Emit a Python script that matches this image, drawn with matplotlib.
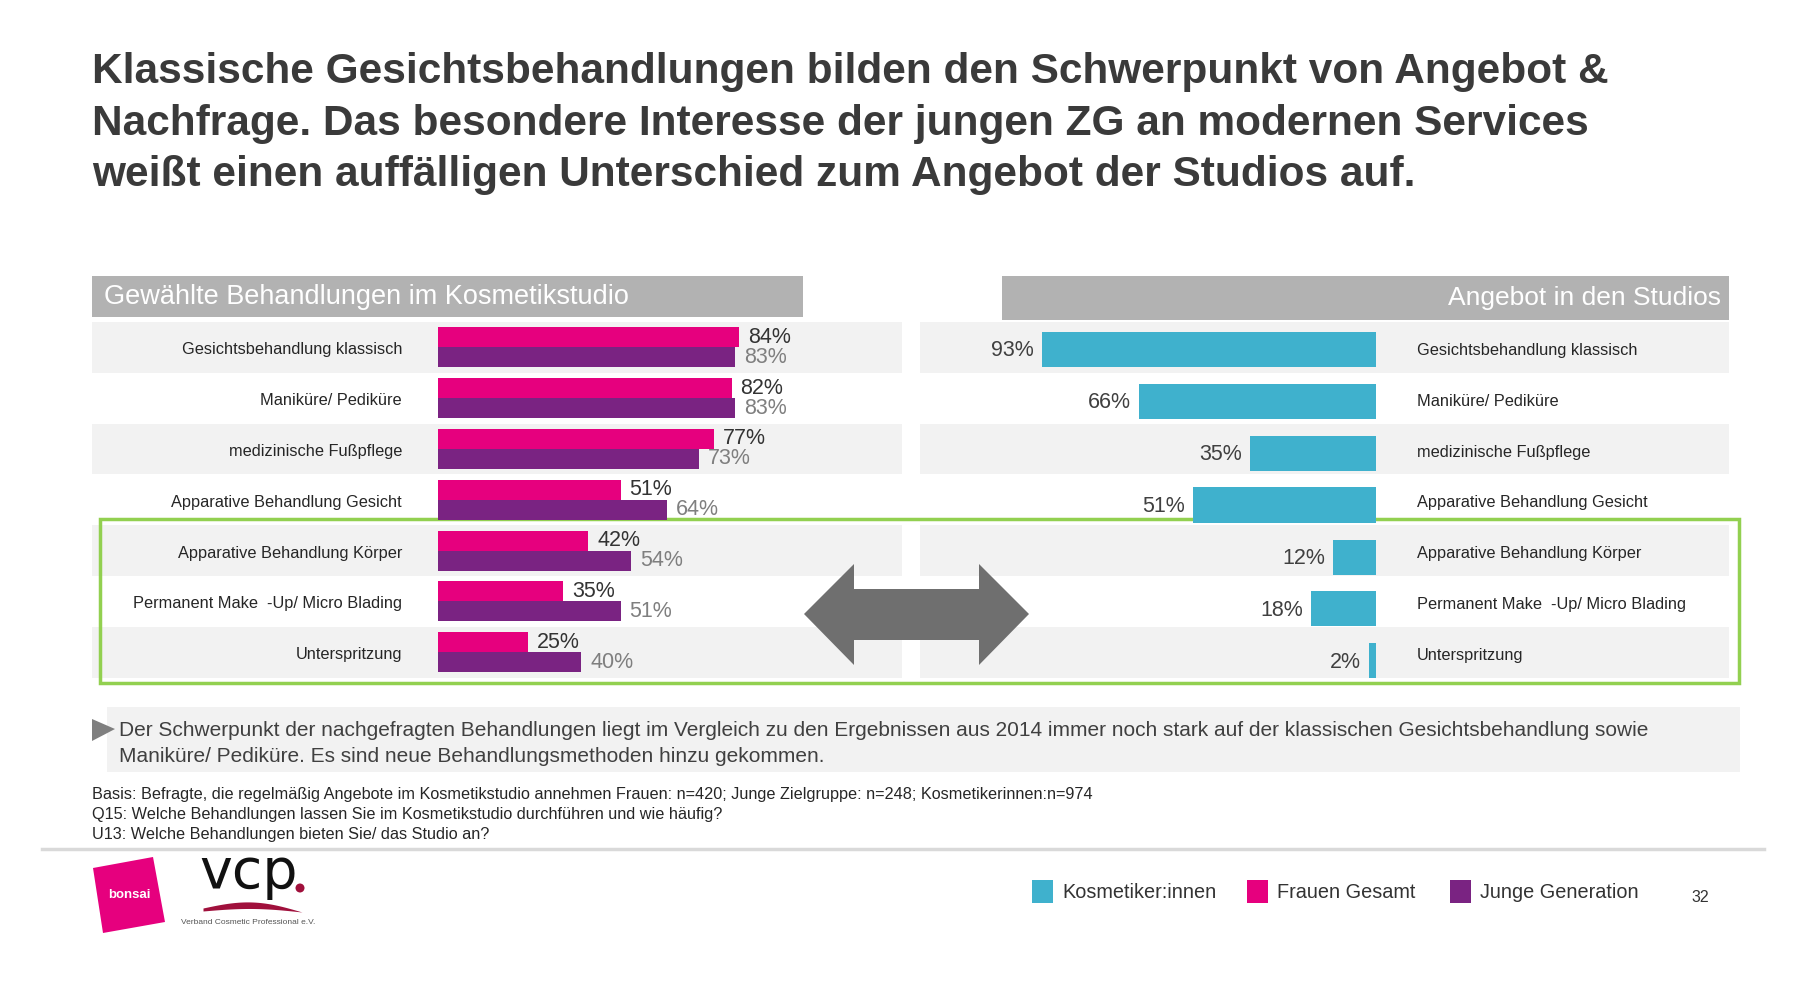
import matplotlib
matplotlib.use("Agg")
import matplotlib.pyplot as plt
from matplotlib.patches import Rectangle, Polygon, Circle
import numpy as np

plt.rcParams['font.family'] = ['Liberation Sans', 'DejaVu Sans']

# ---------------- data ----------------
categories = ["Gesichtsbehandlung klassisch", "Maniküre/ Pediküre", "medizinische Fußpflege",
              "Apparative Behandlung Gesicht", "Apparative Behandlung Körper",
              "Permanent Make  -Up/ Micro Blading", "Unterspritzung"]
frauen_gesamt = [84, 82, 77, 51, 42, 35, 25]
junge_generation = [83, 83, 73, 64, 54, 51, 40]
kosmetiker = [93, 66, 35, 51, 12, 18, 2]

title_lines = ["Klassische Gesichtsbehandlungen bilden den Schwerpunkt von Angebot &",
               "Nachfrage. Das besondere Interesse der jungen ZG an modernen Services",
               "weißt einen auffälligen Unterschied zum Angebot der Studios auf."]
left_header = "Gewählte Behandlungen im Kosmetikstudio"
right_header = "Angebot in den Studios"
note_lines = ["Der Schwerpunkt der nachgefragten Behandlungen liegt im Vergleich zu den Ergebnissen aus 2014 immer noch stark auf der klassischen Gesichtsbehandlung sowie",
              "Maniküre/ Pediküre. Es sind neue Behandlungsmethoden hinzu gekommen."]
basis_lines = ["Basis: Befragte, die regelmäßig Angebote im Kosmetikstudio annehmen Frauen: n=420; Junge Zielgruppe: n=248; Kosmetikerinnen:n=974",
               "Q15: Welche Behandlungen lassen Sie im Kosmetikstudio durchführen und wie häufig?",
               "U13: Welche Behandlungen bieten Sie/ das Studio an?"]
legend_labels = ["Kosmetiker:innen", "Frauen Gesamt", "Junge Generation"]
page_number = "32"

# ---------------- style ----------------
PINK = "#e6007e"
PURPLE = "#7a2382"
CYAN = "#3fb1cd"
HEADER_GRAY = "#b2b2b2"
BAND = "#f2f2f2"
ARROW = "#6f6f6f"
GREEN = "#92d050"
TXT = "#262626"
WINE = "#a0103c"

W, H = 1798, 992
fig = plt.figure(figsize=(W / 100, H / 100), dpi=100)

# background axes in pixel coordinates
bg = fig.add_axes([0, 0, 1, 1])
bg.set_xlim(0, W)
bg.set_ylim(H, 0)
bg.axis("off")

def fx(px_l, px_t, px_r, px_b):
    return [px_l / W, 1 - px_b / H, (px_r - px_l) / W, (px_b - px_t) / H]

# Title
for i, line in enumerate(title_lines):
    bg.text(92, 72 + i * 51.5, line, fontsize=30.5, fontweight="bold", color="#3a3a3a",
            ha="left", va="center")

# Headers
bg.add_patch(Rectangle((92, 276), 711, 41, color=HEADER_GRAY, lw=0))
bg.text(104, 297, left_header, fontsize=19.5, color="white", ha="left", va="center")
bg.add_patch(Rectangle((1002, 276), 727, 44, color=HEADER_GRAY, lw=0))
bg.text(1721, 298, right_header, fontsize=19, color="white", ha="right", va="center")

# Row bands
row_top = 322
row_h = 50.8
n = len(categories)
for i in range(n):
    if i % 2 == 0:
        y0 = row_top + i * row_h
        bg.add_patch(Rectangle((92, y0), 810, row_h, color=BAND, lw=0))
        bg.add_patch(Rectangle((920, y0), 809, row_h, color=BAND, lw=0))

# Left bar axes
axL = fig.add_axes(fx(438, row_top, 796, row_top + n * row_h))
axL.set_xlim(0, 100)
axL.set_ylim(n - 0.5, -0.5)
axL.axis("off")
axL.patch.set_alpha(0)
y = np.arange(n)
bh = 20 / row_h
axL.barh(y - bh / 2, frauen_gesamt, height=bh, color=PINK, lw=0)
axL.barh(y + bh / 2, junge_generation, height=bh, color=PURPLE, lw=0)
for i in range(n):
    axL.annotate(f"{frauen_gesamt[i]}%", (frauen_gesamt[i], y[i] - bh / 2), xytext=(9, 0),
                 textcoords="offset pixels", ha="left", va="center", fontsize=15.5, color="#333333")
    axL.annotate(f"{junge_generation[i]}%", (junge_generation[i], y[i] + bh / 2), xytext=(9, 0),
                 textcoords="offset pixels", ha="left", va="center", fontsize=15.5, color="#7f7f7f")
    axL.annotate(categories[i], (0, y[i] + 0.05), xytext=(-36, 0), textcoords="offset pixels",
                 ha="right", va="center", fontsize=11.8, color=TXT)

# Right bar axes
r_top, r_pitch = 323, 52
axR = fig.add_axes(fx(1017, r_top, 1376, r_top + n * r_pitch))
axR.set_xlim(100, 0)
axR.set_ylim(n - 0.5, -0.5)
axR.axis("off")
axR.patch.set_alpha(0)
axR.barh(y, kosmetiker, height=35 / r_pitch, color=CYAN, lw=0)
for i in range(n):
    axR.annotate(f"{kosmetiker[i]}%", (kosmetiker[i], y[i] + 0.03), xytext=(-8, 0),
                 textcoords="offset pixels", ha="right", va="center", fontsize=15.5, color="#404040")
for i, cat in enumerate(categories):
    bg.text(1417, row_top + (i + 0.5) * row_h + 3, cat, ha="left", va="center",
            fontsize=11.8, color=TXT)

# Green frame
bg.add_patch(Rectangle((100, 519), 1639, 164, fill=False, ec=GREEN, lw=2.5, zorder=5))

# Double arrow
arrow_pts = [(804, 614), (854, 564), (854, 589), (979, 589), (979, 564), (1029, 614),
             (979, 665), (979, 640), (854, 640), (854, 665)]
bg.add_patch(Polygon(arrow_pts, closed=True, color=ARROW, lw=0, zorder=6))

# Note box
bg.add_patch(Rectangle((107, 707), 1633, 65, color=BAND, lw=0))
bg.add_patch(Polygon([(92, 719), (115, 729), (92, 741)], closed=True, color="#7f7f7f", lw=0))
bg.text(119, 731, note_lines[0], fontsize=15, color="#404040", ha="left", va="center")
bg.text(119, 757, note_lines[1], fontsize=15, color="#404040", ha="left", va="center")

# Basis lines
for i, line in enumerate(basis_lines):
    bg.text(92, 795 + i * 20, line, fontsize=11.7, color="#262626", ha="left", va="center")

# Separator
bg.plot([42, 1764], [848.5, 848.5], color="#d9d9d9", lw=2.5)

# Logos
bg.add_patch(Polygon([(93, 868), (153, 857), (165, 922), (103, 933)], closed=True, color=PINK, lw=0))
bg.text(129, 895, "bonsai", fontsize=9.5, fontweight="bold", color="white", ha="center", va="center")
bg.text(199, 888, "vcp", fontsize=40, family="DejaVu Sans", color="#111111", ha="left", va="baseline")
bg.add_patch(Circle((300, 888), 4.5, color=WINE, lw=0))
xs = np.linspace(203, 302, 60)
t = (xs - 203) / 99
bg.fill_between(xs, 908 - 8 * np.sin(t * np.pi) + 4 * t, 911 - 3 * np.sin(t * np.pi) + 1 * t,
                color=WINE, lw=0)
bg.text(181, 923, "Verband Cosmetic Professional e.V.", fontsize=6, color="#555555", ha="left", va="center")

# Legend
leg_items = [(1032, CYAN), (1247, PINK), (1450, PURPLE)]
for (x0, c), lab in zip(leg_items, legend_labels):
    bg.add_patch(Rectangle((x0, 880), 21, 23, color=c, lw=0))
    bg.text(x0 + 30, 892, lab, fontsize=14.3, color="#333333", ha="left", va="center")
bg.text(1700, 898, page_number, fontsize=11.5, color="#333333", ha="center", va="center")

fig.savefig("out.png", dpi=100)
